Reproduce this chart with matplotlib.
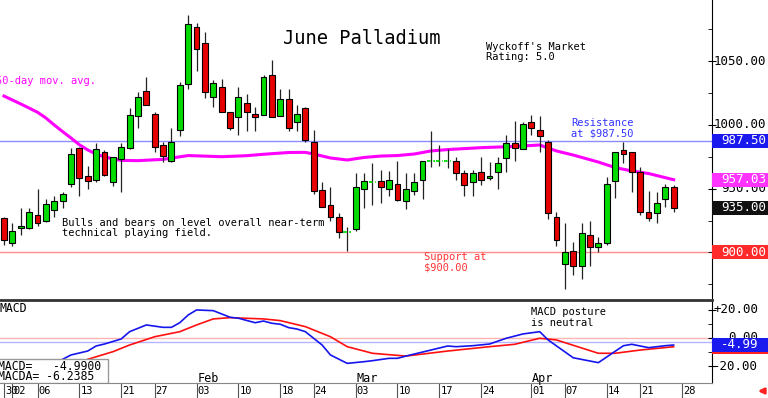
import numpy as np
import matplotlib.pyplot as plt
from matplotlib.patches import Rectangle

# June palladium daily bars, one per trading day (Dec 30 .. Apr 25)
opens = [927, 907, 919, 919, 929, 925, 933, 940, 954, 982,
         960, 957, 979, 955, 973, 982, 1007, 1027, 1009, 984,
         972, 996, 1032, 1077, 1064, 1022, 1030, 1010, 1006, 1017,
         1009, 1008, 1039, 1007, 1020, 1002, 1013, 987, 949, 937,
         928, 916, 918, 950, 955, 956, 950, 954, 940, 948,
         957, 972, 972, 972, 972, 962, 955, 963, 958, 963,
         974, 986, 981, 1002, 996, 987, 928, 891, 901, 889,
         914, 904, 907, 956, 980, 979, 963, 932, 931, 942, 951]
highs = [928, 923, 935, 935, 950, 942, 944, 947, 982, 983,
         968, 986, 980, 975, 986, 1013, 1026, 1038, 1010, 987,
         998, 1034, 1086, 1080, 1073, 1035, 1036, 1010, 1030, 1024,
         1014, 1039, 1051, 1028, 1028, 1016, 1014, 996, 955, 951,
         931, 920, 962, 962, 970, 965, 964, 972, 962, 962,
         972, 995, 984, 981, 975, 965, 965, 975, 971, 975,
         992, 1003, 1002, 1008, 1007, 988, 932, 923, 908, 923,
         925, 912, 959, 979, 987, 979, 967, 948, 947, 954, 953]
lows = [906, 905, 914, 918, 921, 924, 928, 935, 951, 944,
        950, 955, 960, 952, 947, 981, 998, 1016, 979, 971,
        971, 991, 1028, 1042, 1021, 1014, 1010, 996, 992, 995,
        995, 1008, 1006, 1007, 995, 995, 987, 946, 936, 925,
        911, 901, 917, 935, 937, 939, 944, 940, 934, 945,
        942, 967, 968, 966, 957, 944, 944, 953, 957, 950,
        963, 972, 981, 992, 979, 926, 905, 871, 882, 879,
        889, 900, 906, 943, 970, 947, 929, 925, 923, 936, 932]
closes = [910, 917, 921, 932, 923, 938, 940, 946, 977, 958,
          956, 981, 961, 975, 983, 1008, 1022, 1016, 983, 976,
          987, 1031, 1079, 1060, 1026, 1033, 1010, 998, 1022, 1010,
          1006, 1038, 1006, 1020, 998, 1009, 988, 948, 936, 928,
          916, 916, 951, 956, 955, 951, 957, 941, 950, 955,
          972, 972, 972, 972, 962, 953, 962, 957, 960, 970,
          986, 982, 1001, 998, 991, 931, 910, 900, 889, 915,
          904, 907, 954, 979, 977, 963, 932, 927, 939, 951, 935]

# 50-day moving average
ma_idx = [0, 2, 4, 5, 6, 7, 8, 9, 10, 11, 12, 13, 14, 16, 19, 22, 26, 29, 31, 34,
          36, 37, 39, 41, 43, 45, 47, 49, 51, 53, 57, 60, 63, 64, 65, 66, 68, 71,
          73, 75, 77, 80]
ma_val = [1022.7, 1016.5, 1010.0, 1005.5, 1000.0, 994.8, 989.8, 984.5, 980.4, 977.2,
          975.0, 973.4, 972.2, 972.0, 973.0, 976.0, 975.1, 975.9, 977.0, 978.4,
          978.5, 977.2, 974.1, 972.5, 974.5, 975.6, 976.0, 977.2, 979.6, 980.7,
          982.2, 982.9, 983.9, 984.3, 981.9, 979.6, 976.4, 970.9, 966.6, 963.9,
          961.9, 957.03]

# MACD (blue) and its average (red)
macd_idx = [7, 8, 10, 11, 12, 14, 15, 17, 19, 20, 21, 22, 23, 25, 27, 28, 30, 31,
            32, 33, 34, 35, 36, 38, 39, 41, 43, 44, 46, 47, 48, 51, 53, 54, 56, 58,
            60, 62, 64, 65, 68, 71, 74, 75, 77, 79, 80]
macd_val = [-15.2, -12.1, -9.3, -5.7, -4.3, -0.7, 4.5, 9.3, 7.6, 7.6,
            10.9, 16.4, 20.0, 19.5, 14.8, 14.1, 10.9, 12.1, 10.5, 9.8,
            7.4, 6.4, 4.5, -5.0, -12.1, -18.1, -16.9, -16.2, -14.5, -14.5,
            -12.9, -8.6, -5.7, -6.2, -5.5, -4.3, -0.2, 2.9, 4.5, -1.4,
            -14.1, -17.6, -5.5, -4.5, -6.9, -5.5, -4.99]
sig_idx = [10, 13, 15, 18, 21, 23, 25, 27, 31, 33, 36, 39, 41, 43, 44, 48, 53,
           58, 61, 64, 66, 71, 73, 76, 80]
sig_val = [-15.2, -9.8, -5.0, 0.9, 4.5, 9.3, 13.6, 14.5, 13.6, 12.4, 8.1, 0.9,
           -6.2, -9.3, -10.9, -12.9, -9.3, -6.2, -4.5, -0.2, -1.4, -10.9, -10.9,
           -8.6, -6.24]

resistance = 987.50
support = 900.00
last_close = 935.00
ma_last = 957.03
macd_last = -4.9900
macda_last = -6.2385

day_ticks = [0, 1, 4, 9, 14, 18, 23, 28, 33, 37, 42, 47, 52, 57, 63, 67, 72, 76, 81]
day_labels = ["30", "02", "06", "13", "21", "27", "03", "10", "18", "24",
              "03", "10", "17", "24", "01", "07", "14", "21", "28"]
month_ticks = [23, 42, 63]
month_labels = ["Feb", "Mar", "Apr"]

MONO = "DejaVu Sans Mono"
GREEN = "#00dc00"
RED = "#e60000"
MAGENTA = "#ff00ff"
W, H = 768, 398


def fx(x):
    return x / W


def fy(y):
    return 1 - y / H


fig = plt.figure(figsize=(W / 100, H / 100), dpi=100)
ax = fig.add_axes([0, fy(299), fx(712), fy(0) - fy(299)])
ax2 = fig.add_axes([0, fy(383), fx(712), fy(300) - fy(383)])

for a in (ax, ax2):
    a.set_xlim(-0.48, 84.58)
    a.set_xticks([])
    a.spines["left"].set_visible(False)
    a.spines["right"].set_color("black")
ax.set_ylim(863.4, 1098.1)
ax2.set_ylim(-32.1, 27.1)
ax.spines["top"].set_visible(False)
ax.spines["bottom"].set_visible(False)
ax2.spines["top"].set_color("#333333")
ax2.spines["top"].set_linewidth(2)
ax2.spines["bottom"].set_color("#888888")

# ---- price panel
x = np.arange(len(opens))
o, h, l, c = (np.array(v, dtype=float) for v in (opens, highs, lows, closes))
up = c > o
dn = c < o
flat = c == o

ax.axhline(resistance, color="#8c8cff", lw=1, zorder=1)
ax.axhline(support, color="#ff8c8c", lw=1, zorder=1)
ax.plot(ma_idx, ma_val, color=MAGENTA, lw=2.2, zorder=1.5)
ax.vlines(x, l, h, color="#222222", lw=0.9, zorder=2)
ax.bar(x[up], (c - o)[up], bottom=o[up], width=0.7, color=GREEN,
       edgecolor="black", lw=0.8, zorder=3)
ax.bar(x[dn], (o - c)[dn], bottom=c[dn], width=0.7, color=RED,
       edgecolor="black", lw=0.8, zorder=3)
ax.hlines(o[flat], x[flat] - 0.45, x[flat] + 0.45, color=GREEN, lw=1.3,
          linestyles=(0, (2, 1.5)), zorder=3)

ax.yaxis.tick_right()
ax.set_yticks([950, 1000, 1050])
ax.set_yticks(np.arange(875, 1100, 25), minor=True)
ax.tick_params(axis="y", which="major", direction="inout", length=6, labelright=False)
ax.tick_params(axis="y", which="minor", direction="in", length=3)
ytr = ax.get_yaxis_transform()
for v in [950, 1000, 1050]:
    ax.text(766 / 712, v, f"{v:.2f}", transform=ytr, ha="right", va="center",
            fontsize=9, family=MONO, clip_on=False, zorder=4)


def value_box(axis, val, text, fc, half, right, z=5):
    tr = axis.get_yaxis_transform()
    axis.add_patch(Rectangle((1.0, val - half), 768 / 712 - 1.0, 2 * half,
                             transform=tr, facecolor=fc, edgecolor="none",
                             clip_on=False, zorder=z))
    axis.text(right / 712, val, text, transform=tr, ha="right", va="center",
              fontsize=9, family=MONO, color="white", clip_on=False,
              zorder=z + 0.5)


value_box(ax, resistance, f"{resistance:.2f}", "#1a1aee", 5.5, 766)
value_box(ax, ma_last, f"{ma_last:.2f}", "#ff33ff", 5.5, 766)
value_box(ax, last_close, f"{last_close:.2f}", "#111111", 5.5, 766)
value_box(ax, support, f"{support:.2f}", "#ff2a2a", 5.5, 766)

fig.text(fx(283), fy(38), "June Palladium", fontsize=13.5, family=MONO, va="center")
fig.text(fx(486), fy(47), "Wyckoff's Market", fontsize=7.5, family=MONO, va="center")
fig.text(fx(486), fy(57.5), "Rating: 5.0", fontsize=7.5, family=MONO, va="center")
fig.text(fx(-4), fy(81.5), "50-day mov. avg.", fontsize=7.5, family=MONO,
         va="center", color=MAGENTA)
fig.text(fx(62), fy(223), "Bulls and bears on level overall near-term",
         fontsize=7.5, family=MONO, va="center")
fig.text(fx(62), fy(233.5), "technical playing field.", fontsize=7.5,
         family=MONO, va="center")
fig.text(fx(571), fy(122.5), "Resistance", fontsize=7.5, family=MONO,
         va="center", color="#3333ff")
fig.text(fx(571), fy(133), "at $987.50", fontsize=7.5, family=MONO,
         va="center", color="#3333ff")
fig.text(fx(424), fy(257.5), "Support at", fontsize=7.5, family=MONO,
         va="center", color="#ff3333")
fig.text(fx(424), fy(268), "$900.00", fontsize=7.5, family=MONO,
         va="center", color="#ff3333")

# ---- MACD panel
ax2.axhline(0, color="#ffb4b4", lw=1, zorder=1)
ax2.axhline(-3, color="#b4b4ff", lw=1, zorder=1)
ax2.plot(sig_idx, sig_val, color="#ff1010", lw=1.2, zorder=2)
ax2.plot(macd_idx, macd_val, color="#1515ee", lw=1.2, zorder=3)

ax2.yaxis.tick_right()
ax2.set_yticks([-20, 0, 20])
ax2.set_yticks([-10, 10], minor=True)
ax2.tick_params(axis="y", which="major", direction="inout", length=6, labelright=False)
ax2.tick_params(axis="y", which="minor", direction="in", length=3)
ytr2 = ax2.get_yaxis_transform()
for v, s in zip([20, 0, -20], ["+20.00", "0.00", "-20.00"]):
    ax2.text(758 / 712, v, s, transform=ytr2, ha="right", va="center",
             fontsize=9, family=MONO, clip_on=False, zorder=4)
# signal box sits underneath the MACD box, only its lower edge shows
value_box(ax2, macda_last, f"{macda_last:.2f}", "#ff2020", 5.0, 758, z=5)
value_box(ax2, macd_last, f"{macd_last:.2f}", "#1a1aee", 5.0, 758, z=6)

ax2.add_patch(Rectangle((-0.01, 0.0), 108 / 712 + 0.01, 24 / 83,
                        transform=ax2.transAxes, facecolor="white",
                        edgecolor="#999999", lw=1, zorder=7))
ax2.text(-0.003, 16 / 83, f"MACD=   {macd_last:.4f}", transform=ax2.transAxes,
         fontsize=8.3, family=MONO, va="center", zorder=8)
ax2.text(-0.003, 6 / 83, f"MACDA= {macda_last:.4f}", transform=ax2.transAxes,
         fontsize=8.3, family=MONO, va="center", zorder=8)
ax2.text(0.0, 75 / 83, "MACD", transform=ax2.transAxes, fontsize=8.3,
         family=MONO, va="center")
fig.text(fx(531), fy(312.3), "MACD posture", fontsize=7.5, family=MONO, va="center")
fig.text(fx(531), fy(323.3), "is neutral", fontsize=7.5, family=MONO, va="center")

xtr = ax2.get_xaxis_transform()
for t, lab in zip(month_ticks, month_labels):
    ax2.text(t + 0.1, 0.055, lab, transform=xtr, fontsize=8.5, family=MONO,
             va="center", ha="left")
for t, lab in zip(day_ticks, day_labels):
    ax2.plot([t, t], [0, -0.18], transform=xtr, color="#555555", lw=0.8,
             clip_on=False)
    ax2.text(t + 0.12, -0.1, lab, transform=xtr, fontsize=7.5, family=MONO,
             va="center", ha="left", clip_on=False)

ax.annotate("", xy=(fx(755), fy(391)), xytext=(fx(767), fy(391)),
            xycoords="figure fraction", textcoords="figure fraction",
            arrowprops=dict(arrowstyle="-|>", color="#ff2020", lw=2,
                            mutation_scale=8))

fig.savefig("out.png", dpi=100)
